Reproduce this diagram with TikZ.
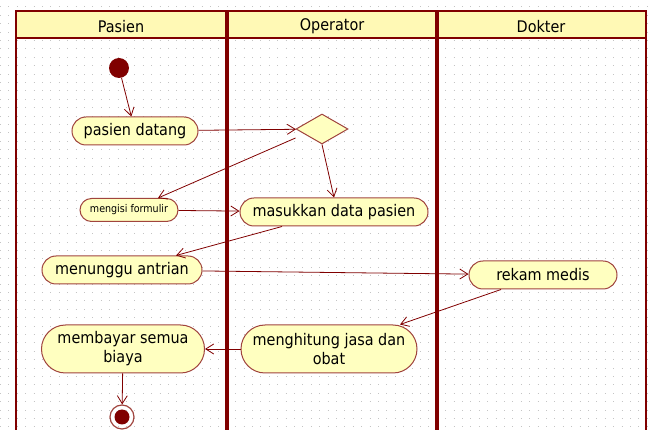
\documentclass[tikz,border=0pt]{standalone}
\usepackage{fontspec}
\setmainfont{DejaVu Sans Condensed}
\usetikzlibrary{shapes.geometric,arrows.meta}
\definecolor{lane}{HTML}{800000}
\definecolor{act}{HTML}{FFFFC0}
\definecolor{actline}{HTML}{A0443E}
\definecolor{head}{HTML}{FFF9B5}
\definecolor{dots}{HTML}{C4C4C4}

\begin{document}
\begin{tikzpicture}[
		x=1pt, y=-1pt,
		every node/.style={font=\fontsize{16}{19}\selectfont},
		activity/.style={rectangle, draw=actline, line width=1pt, fill=act, rounded corners=14pt, minimum height=28pt, align=center, inner sep=0pt},
		flow/.style={draw=lane, line width=0.8pt, -{Straight Barb[length=8pt, width=10pt]}}
	]
  \useasboundingbox (0,0) rectangle (649,430);
  \foreach \y in {7,15.4,...,430}
    \draw[dots, line width=1pt, dash pattern=on 0.8pt off 7.6pt] (0,\y) -- (649,\y);
  \fill[head] (16,11) rectangle (646,38);
  \draw[lane, line width=2pt] (16,430) -- (16,11) -- (646,11) -- (646,430);
  \draw[lane, line width=2pt] (16,38) -- (646,38);
  \draw[lane, line width=4pt] (227,11) -- (227,430);
  \draw[lane, line width=4pt] (437,11) -- (437,430);
  \node (lane_pasien) at (121,26.5) {Pasien};
  \node (lane_operator) at (332,26.5) {Operator};
  \node (lane_dokter) at (541,26.5) {Dokter};
  \node (start) [circle, fill=lane, minimum size=20pt, inner sep=0pt] at (119,68) {};
  \node (pasien_datang) [activity, minimum width=126pt] at (135,131) {pasien datang};
  \node (decision) [diamond, aspect=1.7, draw=actline, line width=1pt, fill=act, minimum width=52pt, minimum height=30pt, inner sep=0pt] at (322,129) {};
  \node (mengisi_formulir) [activity, minimum width=98pt, minimum height=23pt, rounded corners=11.5pt, font=\fontsize{10.6}{13}\selectfont] at (129,210) {mengisi formulir};
  \node (masukkan_data) [activity, minimum width=188pt] at (334,212) {masukkan data pasien};
  \node (menunggu_antrian) [activity, minimum width=160pt] at (122,270) {menunggu antrian};
  \node (rekam_medis) [activity, minimum width=148pt] at (543,275) {rekam medis};
  \node (menghitung_jasa) [activity, minimum width=176pt, minimum height=48pt, rounded corners=24pt] at (329,349) {menghitung jasa dan\\obat};
  \node (membayar_biaya) [activity, minimum width=163pt, minimum height=48pt, rounded corners=24pt] at (123,349) {membayar semua\\biaya};
  \node (stop) [circle, draw=actline, line width=1.2pt, minimum size=24pt, inner sep=0pt,
    path picture={\fill[lane] (path picture bounding box.center) circle (7.5pt);}] at (122,417) {};
  \draw (start) edge [flow] (pasien_datang);
  \draw (pasien_datang) edge [flow] (decision);
  \draw ([yshift=-9pt]decision.west) edge [flow] ([xshift=29pt]mengisi_formulir.north);
  \draw (decision.south) edge [flow] (masukkan_data.north);
  \draw (mengisi_formulir) edge [flow] (masukkan_data);
  \draw ([xshift=-52pt]masukkan_data.south) edge [flow] ([xshift=54pt]menunggu_antrian.north);
  \draw (menunggu_antrian) edge [flow] (rekam_medis);
  \draw ([xshift=-42pt]rekam_medis.south) edge [flow] ([xshift=71pt]menghitung_jasa.north);
  \draw (menghitung_jasa) edge [flow] (membayar_biaya);
  \draw (membayar_biaya) edge [flow] (stop);
\end{tikzpicture}
\end{document}
